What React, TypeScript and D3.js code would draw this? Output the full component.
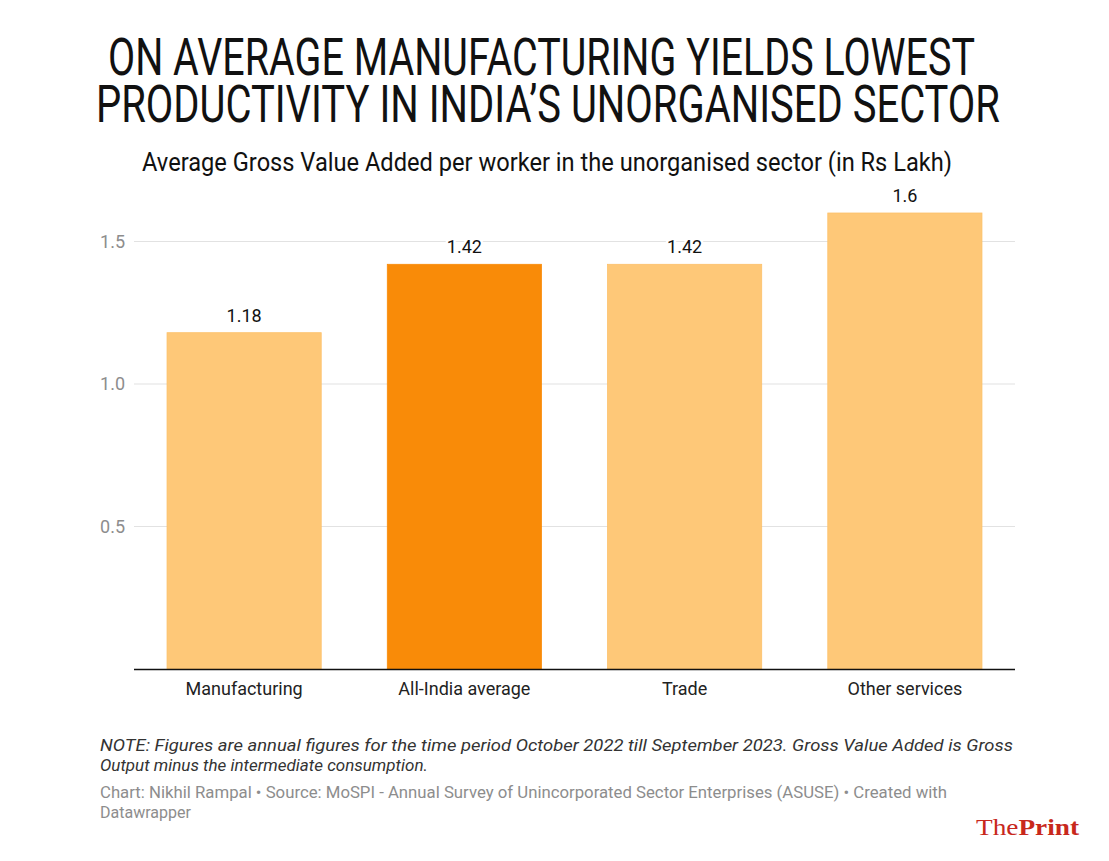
import React from "react";
import * as d3 from "d3";

const categories = ["Manufacturing", "All-India average", "Trade", "Other services"];
const values = [1.18, 1.42, 1.42, 1.6];
const valueLabels = ["1.18", "1.42", "1.42", "1.6"];
const highlighted = [false, true, false, false];
const yTicks = [0.5, 1.0, 1.5];
const yTickLabels = ["0.5", "1.0", "1.5"];

const titleLines = [
  "ON AVERAGE MANUFACTURING YIELDS LOWEST",
  "PRODUCTIVITY IN INDIA\u2019S UNORGANISED SECTOR",
];
const subtitle = "Average Gross Value Added per worker in the unorganised sector (in Rs Lakh)";
const noteLines = [
  "NOTE: Figures are annual figures for the time period October 2022 till September 2023. Gross Value Added is Gross",
  "Output minus the intermediate consumption.",
];
const sourceLines = [
  "Chart: Nikhil Rampal \u2022 Source: MoSPI - Annual Survey of Unincorporated Sector Enterprises (ASUSE) \u2022 Created with",
  "Datawrapper",
];

const W = 1109;
const H = 861;
const plotLeft = 134;
const plotRight = 1015;
const plotBottom = 669;
const yMax = 1.64;

export default function App() {
  const x = d3
    .scaleBand<string>()
    .domain(categories)
    .range([plotLeft, plotRight])
    .paddingInner(0.3)
    .paddingOuter(0.15);
  const y = d3
    .scaleLinear()
    .domain([0, yMax])
    .range([plotBottom, plotBottom - yMax * 285]);

  const font = "Roboto, 'Noto Sans', sans-serif";

  return (
    <svg
      width={W}
      height={H}
      viewBox={`0 0 ${W} ${H}`}
      style={{ position: "absolute", left: 0, top: 0, background: "#fff" }}
    >
      <rect x={0} y={0} width={W} height={H} fill="#fff" />
      {/* Title */}
      <text transform="translate(108,75) scale(1,1.45)" fontFamily={font} fontSize={36} fontWeight={400} fill="#111"
        textLength={867} lengthAdjust="spacingAndGlyphs">{titleLines[0]}</text>
      <text transform="translate(96,122) scale(1,1.45)" fontFamily={font} fontSize={36} fontWeight={400} fill="#111"
        textLength={904} lengthAdjust="spacingAndGlyphs">{titleLines[1]}</text>
      {/* Subtitle */}
      <text x={142} y={171} fontFamily={font} fontSize={25} fontWeight={400} fill="#111"
        textLength={810} lengthAdjust="spacingAndGlyphs">{subtitle}</text>

      {/* Grid */}
      {yTicks.map((t, i) => (
        <g key={"g" + i}>
          <line x1={plotLeft} x2={plotRight} y1={y(t)} y2={y(t)} stroke="#e2e2e2" strokeWidth={1.2} />
          <text x={125} y={y(t)} dy="0.35em" textAnchor="end" fontFamily={font} fontSize={18}
            fill="#8d8d8d">{yTickLabels[i]}</text>
        </g>
      ))}

      {/* Bars */}
      {categories.map((c, i) => (
        <rect key={"b" + i} x={x(c)} y={y(values[i])} width={x.bandwidth()}
          height={y(0) - y(values[i])}
          fill={highlighted[i] ? "#f98b08" : "#fec878"}
          stroke={highlighted[i] ? "#f98b08" : "#fdc16a"} strokeWidth={0.8} />
      ))}

      {/* Value labels */}
      {categories.map((c, i) => (
        <text key={"v" + i} x={(x(c) as number) + x.bandwidth() / 2} y={y(values[i]) - 11}
          textAnchor="middle" fontFamily={font} fontSize={18} fill="#111"
          stroke="#fff" strokeWidth={5} strokeLinejoin="round"
          style={{ paintOrder: "stroke" }}>{valueLabels[i]}</text>
      ))}

      {/* Baseline */}
      <line x1={plotLeft} x2={plotRight} y1={y(0) + 0.5} y2={y(0) + 0.5} stroke="#111" strokeWidth={1.6} />

      {/* Category labels */}
      {categories.map((c, i) => (
        <text key={"c" + i} x={(x(c) as number) + x.bandwidth() / 2} y={695}
          textAnchor="middle" fontFamily={font} fontSize={18} fill="#222">{c}</text>
      ))}

      {/* Notes */}
      <text x={100} y={751} fontFamily={font} fontSize={17} fontStyle="italic" fill="#333"
        textLength={913} lengthAdjust="spacingAndGlyphs">{noteLines[0]}</text>
      <text x={100} y={771} fontFamily={font} fontSize={17} fontStyle="italic" fill="#333">{noteLines[1]}</text>
      <text x={100} y={798} fontFamily={font} fontSize={16} fill="#8d8d8d"
        textLength={847} lengthAdjust="spacingAndGlyphs">{sourceLines[0]}</text>
      <text x={100} y={818} fontFamily={font} fontSize={16} fill="#8d8d8d">{sourceLines[1]}</text>

      {/* Logo */}
      <text x={976} y={835} fontFamily="'Liberation Serif', 'DejaVu Serif', serif" fontSize={24} fill="#c8281c"
        textLength={103} lengthAdjust="spacingAndGlyphs">
        <tspan>The</tspan>
        <tspan fontWeight={700}>Print</tspan>
      </text>
    </svg>
  );
}
